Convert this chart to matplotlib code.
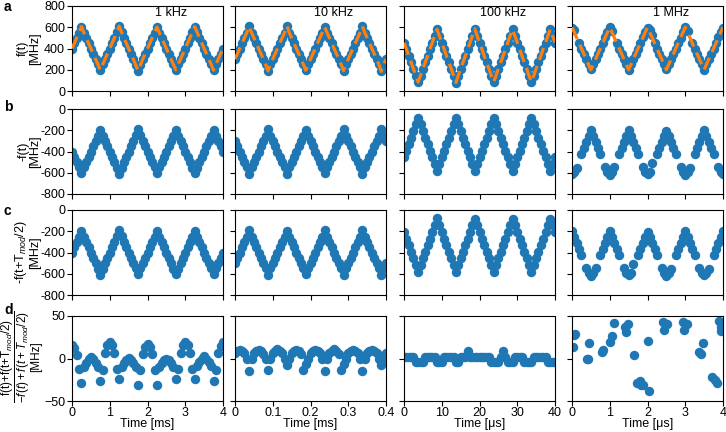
import numpy as np
import matplotlib
matplotlib.use("Agg")
import matplotlib.pyplot as plt

plt.rcParams['font.family'] = ['Liberation Sans', 'DejaVu Sans']
plt.rcParams['mathtext.fontset'] = 'custom'
plt.rcParams['mathtext.rm'] = 'Liberation Sans'
plt.rcParams['mathtext.it'] = 'Liberation Sans:italic'
plt.rcParams['mathtext.bf'] = 'Liberation Sans:bold'
plt.rcParams['font.size'] = 9

nan = np.nan

# ---------------- data ----------------
col_titles = ['1 kHz', '10 kHz', '100 kHz', '1 MHz']
time_spans = [4, 0.4, 40, 4]
time_ticks = [[0, 1, 2, 3, 4], [0, 0.1, 0.2, 0.3, 0.4], [0, 10, 20, 30, 40], [0, 1, 2, 3, 4]]
time_tick_labels = [['0', '1', '2', '3', '4'], ['0', '0.1', '0.2', '0.3', '0.4'],
                    ['0', '10', '20', '30', '40'], ['0', '1', '2', '3', '4']]
time_labels = ['Time [ms]', 'Time [ms]', 'Time [\u03bcs]', 'Time [\u03bcs]']

# f(t) sampled at 65 equally spaced times over each panel [MHz]
f_1k = [400, 450, 500, 550, 605, 550, 500, 450,
        400, 350, 300, 250, 195, 250, 300, 350,
        400, 450, 500, 555, 610, 555, 500, 450,
        400, 350, 300, 245, 190, 245, 300, 350,
        400, 450, 500, 550, 600, 550, 500, 450,
        400, 350, 300, 250, 200, 250, 300, 350,
        400, 450, 500, 555, 605, 555, 500, 450,
        400, 350, 300, 250, 195, 250, 300, 350,
        400]
f_10k = [300, 350, 400, 450, 500, 550, 610, 550,
         500, 450, 400, 350, 300, 250, 190, 250,
         300, 350, 400, 450, 500, 550, 615, 550,
         500, 450, 400, 350, 300, 250, 195, 250,
         300, 350, 400, 450, 500, 550, 605, 550,
         500, 450, 400, 350, 300, 250, 190, 250,
         300, 350, 400, 450, 500, 550, 610, 550,
         500, 450, 400, 350, 300, 250, 185, 250,
         300]
f_100k = [455, 395, 330, 270, 210, 145, 85, 145,
          210, 270, 330, 395, 455, 520, 580, 520,
          455, 395, 330, 270, 210, 145, 80, 145,
          210, 270, 330, 395, 455, 520, 585, 520,
          455, 395, 330, 270, 210, 145, 85, 145,
          210, 270, 330, 395, 455, 520, 580, 520,
          455, 395, 330, 270, 210, 145, 85, 145,
          210, 270, 330, 395, 455, 520, 580, 520,
          455]
f_1M = [595, 570, nan, 455, 400, 350, 300, 250, 205, 250, 300, 350, 400, 450, 505, 555,
        600, 565, nan, 450, 400, 350, 300, 250, 200, 250, 300, 350, 400, 455, 505, 560,
        595, 570, 525, 455, 400, 350, 300, 250, 205, 250, 300, 350, 400, 450, 500, 555,
        600, 565, nan, 450, 400, 350, 300, 250, 200, 250, 300, 350, 400, 455, 505, 560,
        595]
# reference modulation for 1 MHz (orange dashed)
ref_1M_t = [0, 0.5, 1, 1.5, 2, 2.5, 3, 3.5, 4]
ref_1M_v = [600, 200, 600, 200, 600, 200, 600, 200, 600]
# measured -f(t) at 1 MHz
negf_1M = [-615, -595, -555, nan, -420, -365, -310, -255, -200, -255, -310, -365, -420, nan, -545, -590,
           -620, -590, -550, nan, -425, -365, -310, -255, -200, -255, -310, -365, -425, nan, -545, -590,
           -615, -595, -510, nan, -420, -365, -310, -255, -205, -255, -310, -365, -420, nan, -545, -590,
           -620, -595, -555, nan, -420, -365, -310, -255, -200, -255, -310, -365, -420, nan, -545, -590,
           -615]

# sum signal (row d) [MHz]
d_1k = [16, 12, 4, -12, -29, -10, -5, -1, 2, -1, -5, -10, -26, -13, 7, 16,
        20, 16, 7, -12, -24, -10, -5, -2, 1, -2, -5, -10, -31, -13, 5, 13,
        17, 13, 5, -13, -31, -10, -5, -2, 0, -2, -5, -10, -24, -12, 7, 16,
        20, 16, 7, -12, -24, -9, -4, 0, 3, 0, -4, -9, -26, -13, 6, 15,
        19]
d_10k = [6, 9, 10, 9, 6, 0, -15, 0,
         6, 9, 10, 9, 5, -1, -14, 0,
         6, 9, 11, 9, 6, 0, -8, 0,
         6, 9, 10, 9, 5, -14, -7, 0,
         6, 9, 10, 9, 6, 0, -15, 0,
         6, 9, 11, 9, 5, -14, -7, 0,
         6, 9, 10, 9, 6, 0, -15, -1,
         6, 9, 10, 9, 6, 0, -8, 0,
         6]
d_100k = [2, 2, 2, 2, 2, -4, -4, -4,
          -4, 2, 2, 2, 2, 2, -4, -4,
          -4, 2, 2, 2, 2, 2, -4, -4,
          2, 2, 2, 9, 2, 2, 2, 2,
          2, 2, 2, 2, 2, -4, -4, -4,
          -4, 2, 9, 2, -4, -4, -4, 2,
          2, 2, 2, -4, -4, -4, -4, 2,
          2, 2, 2, 2, 2, -4, -4, -4,
          -4]
d_1M_t = [0.02, 0.04, 0.07, 0.39, 0.43, 0.45, 0.79, 0.83, 1.01, 1.05, 1.10, 1.40, 1.44, 1.49,
          1.64, 1.71, 1.80, 1.84, 1.88, 2.02, 2.05, 2.40, 2.44, 2.51, 2.93, 2.97, 3.04,
          3.37, 3.41, 3.46, 3.72, 3.78, 3.83, 3.90, 3.94, 3.96]
d_1M_v = [14, 28, 29, 0, -1, 18, 8, 10, 19, 26, 42, 37, 31, 41,
          4, -29, -27, -31, -31, 21, -38, 43, 34, 41, 43, 33, 41,
          8, 5, 18, -22, -25, -29, 44, 37, 32]

row_ylabels = ['f(t)\n[MHz]', '-f(t)\n[MHz]', '-f(t+T$_{mod}$/2)\n[MHz]']
d_ylabel_lines = ['f(t)+f(t+T$_{mod}$/2)', '$\\overline{-f(t) + f(t + T_{mod}/2)}$', '[MHz]']
row_yticks = [[0, 200, 400, 600, 800], [-800, -600, -400, -200, 0],
              [-800, -600, -400, -200, 0], [-50, 0, 50]]
row_yticklabels = [['0', '200', '400', '600', '800'],
                   ['-800', '-600', '-400', '-200', '0'],
                   ['-800', '-600', '-400', '-200', '0'],
                   ['\u221250', '0', '50']]
row_ylims = [(0, 800), (-800, 0), (-800, 0), (-50, 50)]
panel_letters = ['a', 'b', 'c', 'd']


def half_period_shift(values, n=8):
    v = np.asarray(values, dtype=float)
    base = np.roll(v[:-1], -n)
    return np.append(base, base[0])


f_cols = [np.asarray(f_1k, float), np.asarray(f_10k, float), np.asarray(f_100k, float)]
rows_data = {0: [], 1: [], 2: []}
for f in f_cols:
    rows_data[0].append(f)
    rows_data[1].append(-f)
    rows_data[2].append(-half_period_shift(f))
rows_data[0].append(np.asarray(f_1M, float))
rows_data[1].append(np.asarray(negf_1M, float))
rows_data[2].append(half_period_shift(negf_1M))
d_cols = [d_1k, d_10k, d_100k]

# ---------------- layout ----------------
W, H = 726, 432
fig = plt.figure(figsize=(W / 100, H / 100), dpi=100)
col_left = [72, 235, 404, 572]
col_w = 151
row_top = [6, 109, 210, 316]
row_h = 85

blue = '#1f77b4'
orange = '#ff7f0e'
ms = 6.8

for r in range(4):
    for c in range(4):
        ax = fig.add_axes([col_left[c] / W, 1 - (row_top[r] + row_h) / H, col_w / W, row_h / H])
        span = time_spans[c]
        if r < 3:
            vals = rows_data[r][c]
            t = np.linspace(0, span, len(vals))
            ax.plot(t, vals, 'o', color=blue, ms=ms, mew=0, zorder=2)
            if r == 0:
                if c < 3:
                    ax.plot(t, vals, '--', color=orange, lw=2.3, dashes=(4, 2), zorder=3)
                else:
                    ax.plot(ref_1M_t, ref_1M_v, '--', color=orange, lw=2.3, dashes=(4, 2), zorder=3)
                ax.text(0.655, 0.985, col_titles[c], transform=ax.transAxes,
                        ha='center', va='top', fontsize=9)
        else:
            if c < 3:
                vals = d_cols[c]
                t = np.linspace(0, span, len(vals))
                ax.plot(t, vals, 'o', color=blue, ms=ms, mew=0)
            else:
                ax.plot(d_1M_t, d_1M_v, 'o', color=blue, ms=ms, mew=0)
        ax.set_xlim(0, span)
        ax.set_ylim(*row_ylims[r])
        ax.set_xticks(time_ticks[c])
        ax.set_yticks(row_yticks[r])
        ax.tick_params(direction='out', length=3.5, width=0.8, labelsize=9, pad=1.5)
        ax.tick_params(axis='x', pad=0.8)
        for s in ax.spines.values():
            s.set_linewidth(0.8)
        if r == 3:
            ax.set_xticklabels(time_tick_labels[c])
            ax.set_xlabel(time_labels[c], fontsize=9)
            ax.xaxis.label.set_va('baseline')
            ax.xaxis.set_label_coords(0.5, -0.31)
        else:
            ax.set_xticklabels([])
        if c == 0:
            ax.set_yticklabels(row_yticklabels[r])
            if r < 3:
                ax.set_ylabel(row_ylabels[r], fontsize=9, linespacing=1.0)
                ax.yaxis.set_label_coords(-0.205, 0.5)
        else:
            ax.set_yticklabels([])

# row d y-label, drawn line by line
d_label_x = [7, 22.5, 36.5]
for txt, xp in zip(d_ylabel_lines, d_label_x):
    fig.text(xp / W, 1 - 357 / H, txt, rotation=90, ha='center', va='center', fontsize=8.5)

letter_y = [7, 107, 211, 310]
for r in range(4):
    fig.text(4 / W, 1 - letter_y[r] / H, panel_letters[r], fontsize=10, fontweight='bold',
             ha='left', va='center')

fig.savefig('out.png', dpi=100)
